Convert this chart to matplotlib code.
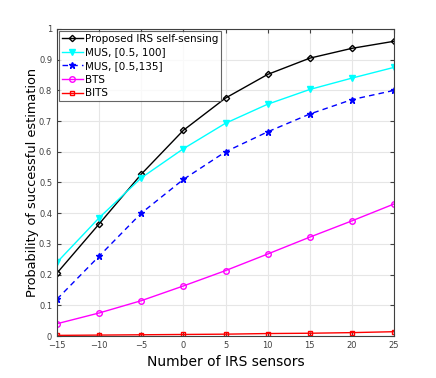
import matplotlib.pyplot as plt

sensors = [-15, -10, -5, 0, 5, 10, 15, 20, 25]
proposed = [0.205, 0.365, 0.527, 0.67, 0.775, 0.852, 0.905, 0.937, 0.96]
mus_100 = [0.24, 0.385, 0.515, 0.61, 0.693, 0.755, 0.803, 0.84, 0.875]
mus_135 = [0.12, 0.26, 0.40, 0.51, 0.60, 0.665, 0.723, 0.77, 0.80]
bts = [0.04, 0.075, 0.115, 0.163, 0.213, 0.267, 0.322, 0.375, 0.43]
bits = [0.002, 0.003, 0.004, 0.005, 0.006, 0.008, 0.009, 0.011, 0.014]

fig = plt.figure(figsize=(4.36, 3.78), dpi=100)
ax = fig.add_axes([57/436, 1 - 336/378, (394 - 57)/436, (336 - 29)/378])

ax.plot(sensors, proposed, "k-", marker="D", ms=3.2, mfc="none", mew=1.0, lw=1.0, label="Proposed IRS self-sensing")
ax.plot(sensors, mus_100, "-", color="cyan", marker="v", ms=4, lw=1.0, label="MUS, [0.5, 100]")
ax.plot(sensors, mus_135, "--", color="blue", marker="*", ms=5, lw=1.0, dashes=(4, 3), label="MUS, [0.5,135]")
ax.plot(sensors, bts, "-", color="magenta", marker="o", ms=4, mfc="none", lw=1.0, label="BTS")
ax.plot(sensors, bits, "-", color="red", marker="s", ms=3.5, mfc="none", lw=1.0, label="BITS")

ax.set_xlim(-15, 25)
ax.set_ylim(0, 1)
ax.set_xticks(sensors)
ax.set_yticks([0, 0.1, 0.2, 0.3, 0.4, 0.5, 0.6, 0.7, 0.8, 0.9, 1])
ax.set_yticklabels(["0", "0.1", "0.2", "0.3", "0.4", "0.5", "0.6", "0.7", "0.8", "0.9", "1"])
ax.grid(True, color="#e6e6e6", lw=0.8)
ax.set_axisbelow(True)
ax.tick_params(labelsize=6, colors="#404040", direction="in", length=3, top=True, right=True)
for s in ax.spines.values():
    s.set_color("#404040")
    s.set_linewidth(0.8)

ax.set_xlabel("Number of IRS sensors", fontsize=10)
ax.set_ylabel("Probability of successful estimation", fontsize=9.3, labelpad=0)

leg = ax.legend(loc="upper left", fontsize=7.5, frameon=True, fancybox=False,
                edgecolor="#404040", handlelength=2.0, handletextpad=0.2,
                labelspacing=0.35, borderpad=0.3, borderaxespad=0.15)
leg.get_frame().set_linewidth(0.8)

fig.savefig("out.png", dpi=100)
